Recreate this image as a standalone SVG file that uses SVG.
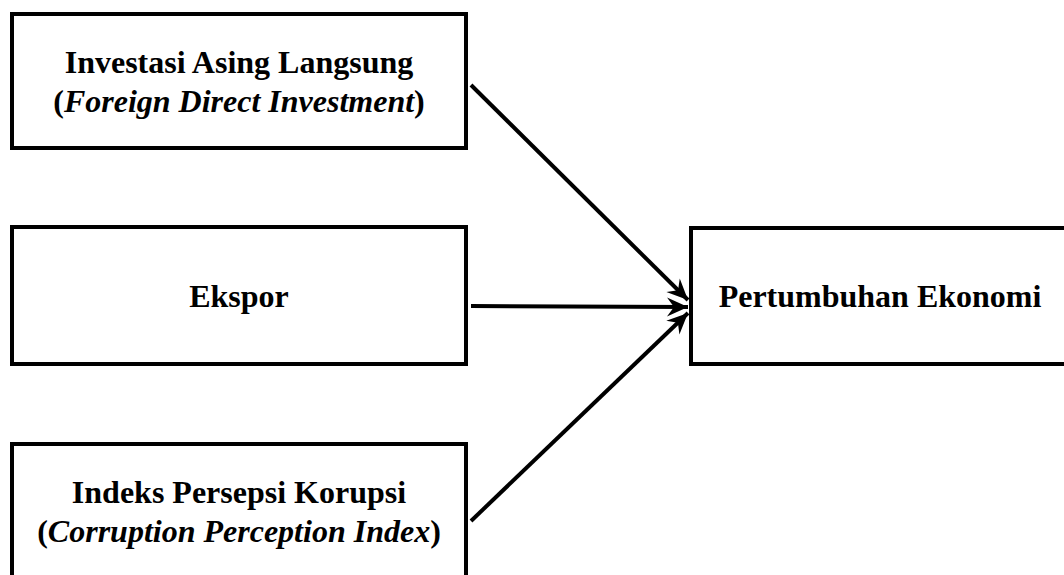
<svg xmlns="http://www.w3.org/2000/svg" width="1064" height="575" viewBox="0 0 1064 575">
<style>
.box{fill:#fff;stroke:#000;stroke-width:4}
.t{font-family:"Liberation Serif","Times New Roman",serif;font-weight:bold;font-size:32px;fill:#000;text-anchor:middle}
.i{font-style:italic}
.c{stroke:#000;stroke-width:4;fill:none}
</style>
<defs>
<marker id="ah" markerUnits="userSpaceOnUse" markerWidth="26" markerHeight="22" viewBox="-23 -11 25 22" refX="0" refY="0" orient="auto">
<path d="M0,0 L-21,-9.5 L-14,0 L-21,9.5 Z" fill="#000"/>
</marker>
</defs>
<rect width="1064" height="575" fill="#fff"/>
<g id="node-fdi">
<rect class="box" x="12" y="14" width="454" height="134"/>
<text class="t" x="239" y="73">Investasi Asing Langsung</text>
<text class="t" x="239" y="112">(<tspan class="i">Foreign Direct Investment</tspan>)</text>
</g>
<g id="node-ekspor">
<rect class="box" x="12" y="227" width="454" height="137"/>
<text class="t" x="239" y="307">Ekspor</text>
</g>
<g id="node-ipk">
<rect class="box" x="12" y="444" width="454" height="140"/>
<text class="t" x="239" y="503">Indeks Persepsi Korupsi</text>
<text class="t" x="239" y="542">(<tspan class="i">Corruption Perception Index</tspan>)</text>
</g>
<g id="node-pe">
<rect class="box" x="691" y="228" width="380" height="136"/>
<text class="t" x="880" y="307">Pertumbuhan Ekonomi</text>
</g>
<g id="connectors">
<line class="c" x1="471" y1="85" x2="688" y2="300" marker-end="url(#ah)"/>
<line class="c" x1="471" y1="306" x2="688" y2="307" marker-end="url(#ah)"/>
<line class="c" x1="471" y1="521" x2="688" y2="313" marker-end="url(#ah)"/>
</g>
</svg>
